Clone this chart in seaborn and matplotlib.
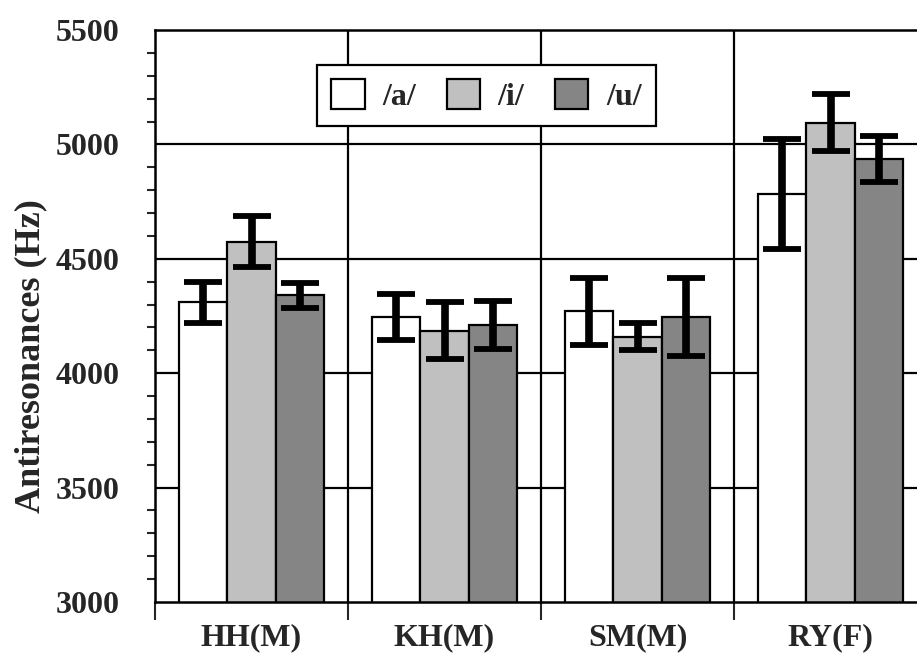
import matplotlib
matplotlib.use("Agg")
import matplotlib.pyplot as plt
import matplotlib.patches as mpatches
import numpy as np
import pandas as pd
import seaborn as sns

subjects = ["HH(M)", "KH(M)", "SM(M)", "RY(F)"]
vowels = ["/a/", "/i/", "/u/"]
vals_a = [4310, 4245, 4270, 4785]
vals_i = [4575, 4185, 4160, 5095]
vals_u = [4340, 4210, 4245, 4935]
err_a = [90, 100, 145, 240]
err_i = [110, 125, 60, 125]
err_u = [55, 105, 170, 100]
colors = ["#ffffff", "#c0c0c0", "#858585"]

rows = []
for s_i, s in enumerate(subjects):
    for v, vals in zip(vowels, [vals_a, vals_i, vals_u]):
        rows.append({"subject": s, "vowel": v, "value": vals[s_i]})
df = pd.DataFrame(rows)

sns.set_style("white")
plt.rcParams["font.family"] = ["Liberation Serif", "DejaVu Serif"]
plt.rcParams["font.weight"] = "bold"

W, H = 917, 658
fig = plt.figure(figsize=(W / 100, H / 100), dpi=100)
ax = fig.add_axes([155 / W, (H - 602) / H, 772 / W, 572 / H])

# grid lines behind bars
for y in [3500, 4000, 4500, 5000]:
    ax.axhline(y, color="black", lw=1.6, zorder=0)
for x in [0.5, 1.5, 2.5]:
    ax.axvline(x, color="black", lw=1.6, zorder=0)

sns.barplot(data=df, x="subject", y="value", hue="vowel", order=subjects,
            hue_order=vowels, palette=colors, width=0.75, errorbar=None,
            edgecolor="black", linewidth=1.6, ax=ax, legend=False, zorder=2)

for cont, errs in zip(ax.containers, [err_a, err_i, err_u]):
    xs = [b.get_x() + b.get_width() / 2 for b in cont]
    ys = [b.get_height() for b in cont]
    ax.errorbar(xs, ys, yerr=errs, fmt="none", ecolor="black", elinewidth=5.5,
                capsize=13.5, capthick=4.2, zorder=3)

ax.set_ylim(3000, 5500)
ax.set_xlim(-0.5, 3.5)
ax.set_yticks([3000, 3500, 4000, 4500, 5000, 5500])
ax.set_yticks(np.arange(3000, 5501, 100), minor=True)
ax.set_xticks([-0.5, 0.5, 1.5, 2.5, 3.5])
ax.set_xticklabels([])
ax.set_xticks([0, 1, 2, 3], minor=True)
ax.set_xticklabels(subjects, minor=True, fontsize=23, fontweight="bold")
ax.tick_params(axis="y", which="major", direction="out", length=12.5, width=1.5,
               labelsize=23, pad=13)
ax.tick_params(axis="y", which="minor", direction="out", length=6, width=1.5, left=True)
ax.tick_params(axis="x", which="major", direction="out", length=13, width=1.5, bottom=True)
ax.tick_params(axis="x", which="minor", length=0, pad=15)
for lab in ax.get_yticklabels():
    lab.set_fontweight("bold")

for side in ["left", "bottom", "top", "right"]:
    ax.spines[side].set_visible(True)
    ax.spines[side].set_linewidth(1.8)
    ax.spines[side].set_color("black")

ax.set_xlabel("")
ax.set_ylabel("Antiresonances (Hz)", fontsize=26, fontweight="bold")
ax.yaxis.set_label_coords(-0.14, 0.43)

handles = [mpatches.Patch(facecolor=c, edgecolor="black", linewidth=1.6) for c in colors]
leg = fig.legend(handles, vowels, loc="upper left",
                 bbox_to_anchor=(317 / W, 1 - 65 / H), ncol=3, frameon=True,
                 fancybox=False, framealpha=1, edgecolor="black", borderaxespad=0,
                 handlelength=1.05, handleheight=1.05, handletextpad=0.55,
                 columnspacing=0.95, borderpad=0.45,
                 prop={"family": "Liberation Serif", "weight": "bold", "size": 23})
leg.get_frame().set_linewidth(1.6)

fig.savefig("out.png", dpi=100)
